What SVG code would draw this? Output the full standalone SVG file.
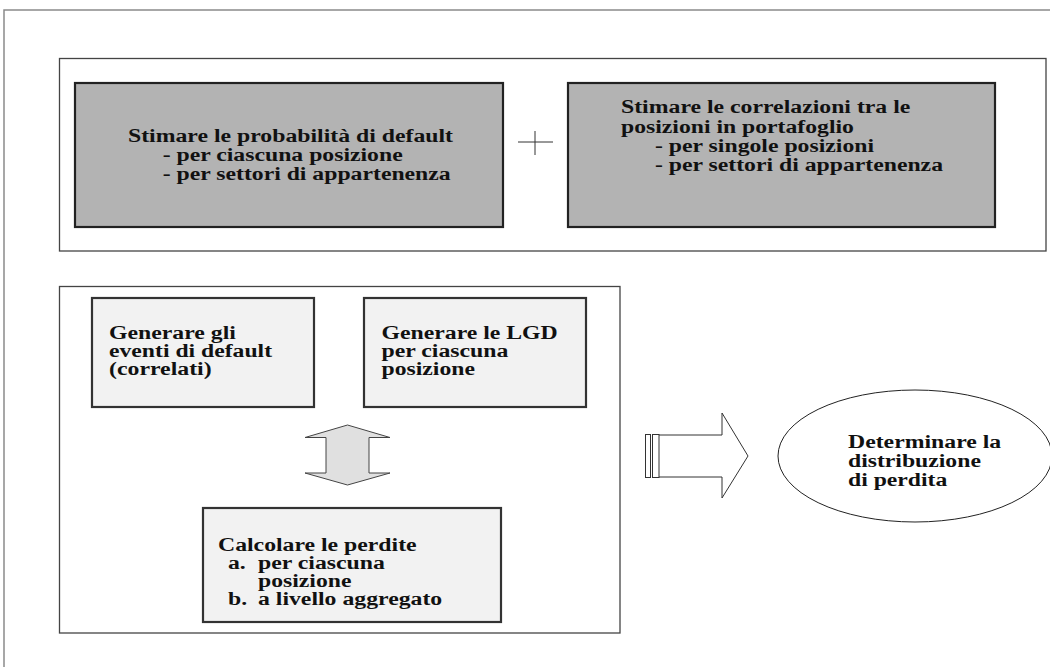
<svg xmlns="http://www.w3.org/2000/svg" width="1050" height="667" viewBox="0 0 1050 667">
<style>
.t{font-family:"Liberation Serif","Times New Roman",serif;font-weight:bold;font-size:18.5px;fill:#111}
.frame{fill:none;stroke:#8a8a8a;stroke-width:1.5}
.grp{fill:#fff;stroke:#444;stroke-width:1.3}
.dark{fill:#b3b3b3;stroke:#222;stroke-width:2.2}
.light{fill:#f2f2f2;stroke:#333;stroke-width:2.2}
.line{fill:none;stroke:#333;stroke-width:1}
</style>
<rect width="1050" height="667" fill="#fff"/>
<path class="frame" d="M4,667 V10 H1050"/>
<g id="top-group"><rect class="grp" x="59.5" y="58.5" width="986.5" height="192.5"/></g>
<g id="pd">
<rect class="dark" x="75" y="83" width="428" height="144"/>
<text class="t" x="128" y="142" textLength="325" lengthAdjust="spacingAndGlyphs">Stimare le probabilità di default</text>
<text class="t" x="162.7" y="161" textLength="240" lengthAdjust="spacingAndGlyphs">- per ciascuna posizione</text>
<text class="t" x="162.7" y="180" textLength="288" lengthAdjust="spacingAndGlyphs">- per settori di appartenenza</text>
</g>
<g id="corr">
<rect class="dark" x="568" y="83" width="427" height="144"/>
<text class="t" x="621" y="113" textLength="289.3" lengthAdjust="spacingAndGlyphs">Stimare le correlazioni tra le</text>
<text class="t" x="621" y="132.5" textLength="232.9" lengthAdjust="spacingAndGlyphs">posizioni in portafoglio</text>
<text class="t" x="655" y="152" textLength="219.1" lengthAdjust="spacingAndGlyphs">- per singole posizioni</text>
<text class="t" x="655" y="171" textLength="288" lengthAdjust="spacingAndGlyphs">- per settori di appartenenza</text>
</g>
<g id="bottom-group"><rect class="grp" x="59.5" y="286.5" width="560.5" height="346.5"/></g>
<g id="eventi">
<rect class="light" x="92" y="298" width="222" height="109"/>
<text class="t" x="109" y="339" textLength="126.9" lengthAdjust="spacingAndGlyphs">Generare gli</text>
<text class="t" x="109" y="357" textLength="163.1" lengthAdjust="spacingAndGlyphs">eventi di default</text>
<text class="t" x="109" y="375" textLength="102.6" lengthAdjust="spacingAndGlyphs">(correlati)</text>
</g>
<g id="lgd">
<rect class="light" x="364" y="298" width="222" height="109"/>
<text class="t" x="381.5" y="339" textLength="176.2" lengthAdjust="spacingAndGlyphs">Generare le LGD</text>
<text class="t" x="381.5" y="357" textLength="126.9" lengthAdjust="spacingAndGlyphs">per ciascuna</text>
<text class="t" x="381.5" y="375" textLength="93.4" lengthAdjust="spacingAndGlyphs">posizione</text>
</g>
<g id="perdite">
<rect class="light" x="203" y="508" width="298" height="114"/>
<text class="t" x="218" y="551" textLength="198.6" lengthAdjust="spacingAndGlyphs">Calcolare le perdite</text>
<text class="t" x="228" y="569" textLength="17.8" lengthAdjust="spacingAndGlyphs">a.</text>
<text class="t" x="258" y="569" textLength="126.9" lengthAdjust="spacingAndGlyphs">per ciascuna</text>
<text class="t" x="258" y="587" textLength="93.4" lengthAdjust="spacingAndGlyphs">posizione</text>
<text class="t" x="228" y="605" textLength="19.1" lengthAdjust="spacingAndGlyphs">b.</text>
<text class="t" x="258" y="605" textLength="184.2" lengthAdjust="spacingAndGlyphs">a livello aggregato</text>
</g>
<g id="distribuzione">
<ellipse cx="915" cy="456" rx="137" ry="66" fill="#fff" stroke="#222" stroke-width="1"/>
<text class="t" x="848" y="448" textLength="153.2" lengthAdjust="spacingAndGlyphs">Determinare la</text>
<text class="t" x="848" y="467" textLength="132.9" lengthAdjust="spacingAndGlyphs">distribuzione</text>
<text class="t" x="848" y="486" textLength="99.3" lengthAdjust="spacingAndGlyphs">di perdita</text>
</g>
<g id="connectors">
<path class="line" d="M518,142 H553 M535,131 V155"/>
<path d="M347.5,425 L390,437.5 H369 V473 H390 L347.5,485 L305,473 H326 V437.5 H305 Z" fill="#e0e0e0" stroke="#444" stroke-width="1"/>
<rect x="645.5" y="434.5" width="5" height="43" fill="#fff" stroke="#333" stroke-width="1"/>
<rect x="652.5" y="434.5" width="6.5" height="43" fill="#fff" stroke="#333" stroke-width="1"/>
<path class="line" d="M659,435 H722 V413 L748,456 L722,498 V477 H659"/>
</g>
</svg>
